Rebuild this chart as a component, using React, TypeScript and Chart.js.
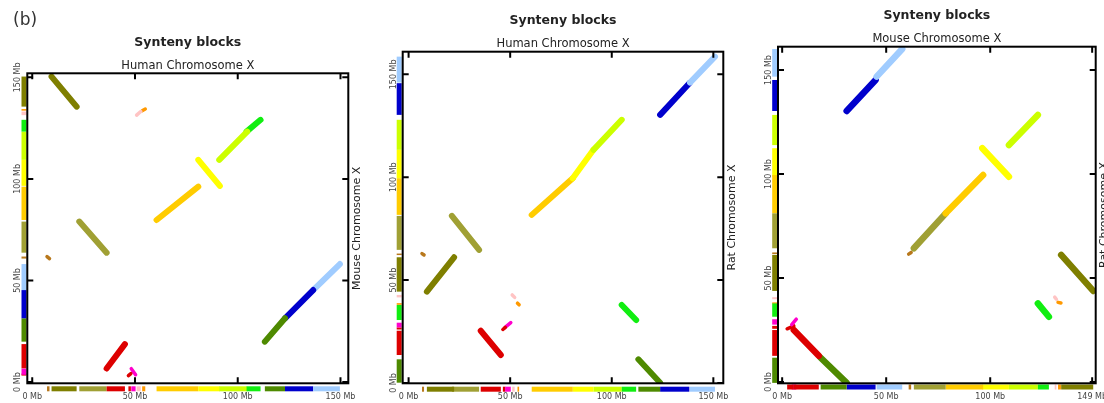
import { useEffect, useRef } from 'react';
import { Chart, registerables } from 'chart.js';

Chart.register(...registerables);

// Segment colours (one per conserved segment of human X)
const segmentColors: Record<string, string> = {
  oliveDark: '#7f7f00',
  oliveLight: '#a0a034',
  brown: '#b8781c',
  red: '#dd0000',
  magenta: '#ff00cc',
  pink: '#ffc4c4',
  orange: '#ff9900',
  amber: '#ffcc00',
  yellow: '#ffff00',
  lime: '#ccff00',
  green: '#11ee11',
  darkGreen: '#4e8a00',
  blue: '#0000cc',
  lightBlue: '#a0ccff',
};

// Blocks: [xStart Mb, yStart Mb, xEnd Mb, yEnd Mb, segment]
const humanMouseBlocks: [number, number, number, number, string][] = [
  [9.4, 150.4, 21.6, 135.6, 'oliveDark'],
  [22.9, 79.0, 36.2, 63.7, 'oliveLight'],
  [7.2, 61.8, 8.4, 60.8, 'brown'],
  [36.2, 6.7, 45.1, 18.7, 'red'],
  [46.8, 3.2, 48.0, 4.2, 'red'],
  [48.2, 6.6, 50.3, 3.6, 'magenta'],
  [50.8, 131.4, 52.8, 133.2, 'pink'],
  [53.5, 133.6, 55.0, 134.4, 'orange'],
  [60.5, 79.8, 80.8, 96.2, 'amber'],
  [80.8, 109.4, 91.3, 96.6, 'yellow'],
  [91.0, 109.4, 104.6, 123.3, 'lime'],
  [104.3, 123.3, 111.1, 129.1, 'green'],
  [113.2, 19.9, 123.0, 31.4, 'darkGreen'],
  [123.0, 31.4, 136.7, 45.3, 'blue'],
  [136.7, 45.3, 149.7, 58.1, 'lightBlue'],
];

const humanRatBlocks: [number, number, number, number, string][] = [
  [138.5, 146.0, 150.8, 158.6, 'lightBlue'],
  [123.8, 130.3, 138.2, 145.7, 'blue'],
  [91.0, 113.3, 104.9, 127.9, 'lime'],
  [80.8, 99.5, 91.0, 113.3, 'yellow'],
  [60.6, 81.7, 80.8, 99.5, 'amber'],
  [21.3, 81.2, 34.7, 64.7, 'oliveLight'],
  [6.6, 62.9, 7.6, 62.2, 'brown'],
  [9.0, 44.4, 22.4, 61.1, 'oliveDark'],
  [51.0, 42.8, 52.2, 41.6, 'pink'],
  [53.6, 38.8, 54.4, 38.0, 'orange'],
  [104.9, 37.9, 112.0, 30.6, 'green'],
  [46.4, 26.0, 47.6, 27.0, 'red'],
  [47.5, 27.0, 50.3, 29.3, 'magenta'],
  [35.5, 25.4, 45.4, 13.6, 'red'],
  [113.1, 11.5, 123.8, 0.15, 'darkGreen'],
];

const mouseRatBlocks: [number, number, number, number, string][] = [
  [45.4, 146.8, 57.7, 160.1, 'lightBlue'],
  [31.0, 130.3, 44.9, 145.2, 'blue'],
  [109.0, 113.9, 122.9, 128.4, 'lime'],
  [96.2, 112.4, 109.0, 98.7, 'yellow'],
  [78.6, 81.1, 96.6, 99.5, 'amber'],
  [63.3, 64.3, 78.6, 81.1, 'oliveLight'],
  [60.8, 61.5, 62.0, 62.3, 'brown'],
  [134.1, 61.1, 149.5, 43.8, 'oliveDark'],
  [131.0, 40.8, 131.8, 39.8, 'pink'],
  [132.6, 38.3, 134.0, 38.0, 'orange'],
  [122.9, 37.8, 128.2, 31.4, 'green'],
  [4.6, 27.6, 6.8, 30.2, 'magenta'],
  [2.4, 25.6, 5.6, 27.0, 'red'],
  [5.6, 25.0, 17.6, 12.6, 'red'],
  [18.5, 11.7, 31.0, -0.4, 'darkGreen'],
];

const mbTicks = [0, 50, 100, 150];
const mbTickLabels = ['0 Mb', '50 Mb', '100 Mb', '150 Mb'];
const mouseXTicks = [0, 50, 100, 149];
const mouseXTickLabels = ['0 Mb', '50 Mb', '100 Mb', '149 Mb'];

const figureLabel = '(b)';
const chartTitle = 'Synteny blocks';

type Block = [number, number, number, number, string];

interface Panel {
  blocks: Block[];
  xTitle: string;
  yTitle: string;
  xRange: [number, number];
  yRange: [number, number];
  xTicks: number[];
  xTickLabels: string[];
  yTicks: number[];
  yTickLabels: string[];
  area: { left: number; top: number; right: number; bottom: number };
  lineWidth: number;
  barGapLeft: number;
  barGapBottom: number;
}

const W = 1104;
const H = 403;
const FONT = '"DejaVu Sans", "Liberation Sans", sans-serif';

const panels: Panel[] = [
  {
    blocks: humanMouseBlocks,
    xTitle: 'Human Chromosome X',
    yTitle: 'Mouse Chromosome X',
    xRange: [-2.4, 153.8],
    yRange: [-0.6, 152],
    xTicks: mbTicks,
    xTickLabels: mbTickLabels,
    yTicks: mbTicks,
    yTickLabels: mbTickLabels,
    area: { left: 27.3, top: 73.3, right: 348.3, bottom: 383.3 },
    lineWidth: 6,
    barGapLeft: 0.8,
    barGapBottom: 3,
  },
  {
    blocks: humanRatBlocks,
    xTitle: 'Human Chromosome X',
    yTitle: 'Rat Chromosome X',
    xRange: [-2.9, 154.9],
    yRange: [-0.15, 161],
    xTicks: mbTicks,
    xTickLabels: mbTickLabels,
    yTicks: mbTicks,
    yTickLabels: mbTickLabels,
    area: { left: 402.7, top: 51.7, right: 723.3, bottom: 383.3 },
    lineWidth: 6,
    barGapLeft: 1,
    barGapBottom: 3.4,
  },
  {
    blocks: mouseRatBlocks,
    xTitle: 'Mouse Chromosome X',
    yTitle: 'Rat Chromosome X',
    xRange: [-2, 150.7],
    yRange: [-0.6, 161.2],
    xTicks: mouseXTicks,
    xTickLabels: mouseXTickLabels,
    yTicks: mbTicks,
    yTickLabels: mbTickLabels,
    area: { left: 778, top: 46.7, right: 1095.7, bottom: 383.3 },
    lineWidth: 6.5,
    barGapLeft: 0.8,
    barGapBottom: 1.2,
  },
];

function isSmall(b: Block) {
  return Math.hypot(b[2] - b[0], b[3] - b[1]) < 4;
}

function makeDecor(p: Panel, withFigureLabel: boolean) {
  return {
    id: 'decor',
    afterDatasetsDraw(chart: any) {
      const { ctx, chartArea: a } = chart;
      const x = chart.scales.x;
      const y = chart.scales.y;
      ctx.save();
      // chromosome colour bars along the axes
      const barW = 5;
      for (const b of p.blocks) {
        ctx.fillStyle = segmentColors[b[4]];
        const xa = x.getPixelForValue(Math.min(b[0], b[2]));
        const xb = x.getPixelForValue(Math.max(b[0], b[2]));
        ctx.fillRect(xa, a.bottom + p.barGapBottom, Math.max(1.5, xb - xa), barW);
        const ya = y.getPixelForValue(Math.max(b[1], b[3]));
        const yb = y.getPixelForValue(Math.min(b[1], b[3]));
        ctx.fillRect(a.left - p.barGapLeft - barW, ya, barW, Math.max(1.5, yb - ya));
      }
      // frame
      ctx.strokeStyle = '#000';
      ctx.lineWidth = 2;
      ctx.strokeRect(a.left, a.top, a.right - a.left, a.bottom - a.top);
      // inward ticks
      const tl = 6;
      ctx.beginPath();
      for (const v of p.xTicks) {
        const px = x.getPixelForValue(v);
        ctx.moveTo(px, a.bottom);
        ctx.lineTo(px, a.bottom - tl);
        ctx.moveTo(px, a.top);
        ctx.lineTo(px, a.top + tl);
      }
      for (const v of p.yTicks) {
        const py = y.getPixelForValue(v);
        ctx.moveTo(a.left, py);
        ctx.lineTo(a.left + tl, py);
        ctx.moveTo(a.right, py);
        ctx.lineTo(a.right - tl, py);
      }
      ctx.stroke();
      // tick labels
      ctx.fillStyle = '#444';
      ctx.font = `8px ${FONT}`;
      ctx.textAlign = 'center';
      ctx.textBaseline = 'middle';
      p.xTicks.forEach((v, i) => {
        ctx.fillText(p.xTickLabels[i], x.getPixelForValue(v), a.bottom + 13.7);
      });
      p.yTicks.forEach((v, i) => {
        ctx.save();
        ctx.translate(a.left - 9, y.getPixelForValue(v));
        ctx.rotate(-Math.PI / 2);
        ctx.fillText(p.yTickLabels[i], 0, 0);
        ctx.restore();
      });
      // titles
      const cx = (a.left + a.right) / 2;
      ctx.fillStyle = '#222';
      ctx.font = `bold 12.5px ${FONT}`;
      ctx.fillText(chartTitle, cx, a.top - 30.5);
      ctx.font = `11.5px ${FONT}`;
      ctx.fillText(p.xTitle, cx, a.top - 7.5);
      // right-hand axis title
      ctx.save();
      ctx.translate(a.right + 8.5, (a.top + a.bottom) / 2);
      ctx.rotate(-Math.PI / 2);
      ctx.font = `11px ${FONT}`;
      ctx.fillText(p.yTitle, 0, 0);
      ctx.restore();
      if (withFigureLabel) {
        ctx.font = `17px ${FONT}`;
        ctx.fillStyle = '#333';
        ctx.textAlign = 'left';
        ctx.fillText(figureLabel, 13, 21);
      }
      ctx.restore();
    },
  };
}

function PanelChart({ panel, index }: { panel: Panel; index: number }) {
  const ref = useRef<HTMLCanvasElement>(null);
  useEffect(() => {
    if (!ref.current) return;
    const a = panel.area;
    const chart = new Chart(ref.current, {
      type: 'scatter',
      data: {
        datasets: panel.blocks.map((b) => ({
          data: [
            { x: b[0], y: b[1] },
            { x: b[2], y: b[3] },
          ],
          showLine: true,
          borderColor: segmentColors[b[4]],
          backgroundColor: segmentColors[b[4]],
          borderWidth: isSmall(b) ? 3.5 : panel.lineWidth,
          borderCapStyle: 'round' as const,
          pointRadius: 0,
          tension: 0,
        })),
      },
      options: {
        responsive: false,
        animation: false,
        devicePixelRatio: 1,
        events: [],
        layout: {
          padding: { left: a.left, top: a.top, right: W - a.right, bottom: H - a.bottom },
        },
        plugins: {
          legend: { display: false },
          tooltip: { enabled: false },
          title: { display: false },
        },
        scales: {
          x: { type: 'linear', display: false, min: panel.xRange[0], max: panel.xRange[1] },
          y: { type: 'linear', display: false, min: panel.yRange[0], max: panel.yRange[1] },
        },
      },
      plugins: [makeDecor(panel, index === 0)],
    });
    return () => chart.destroy();
  }, [panel, index]);
  return (
    <canvas
      ref={ref}
      width={W}
      height={H}
      style={{ position: 'absolute', left: 0, top: 0, width: W, height: H }}
    />
  );
}

export default function App() {
  return (
    <div style={{ position: 'absolute', left: 0, top: 0, width: W, height: H, background: '#fff', overflow: 'hidden' }}>
      {panels.map((p, i) => (
        <PanelChart key={i} panel={p} index={i} />
      ))}
    </div>
  );
}
